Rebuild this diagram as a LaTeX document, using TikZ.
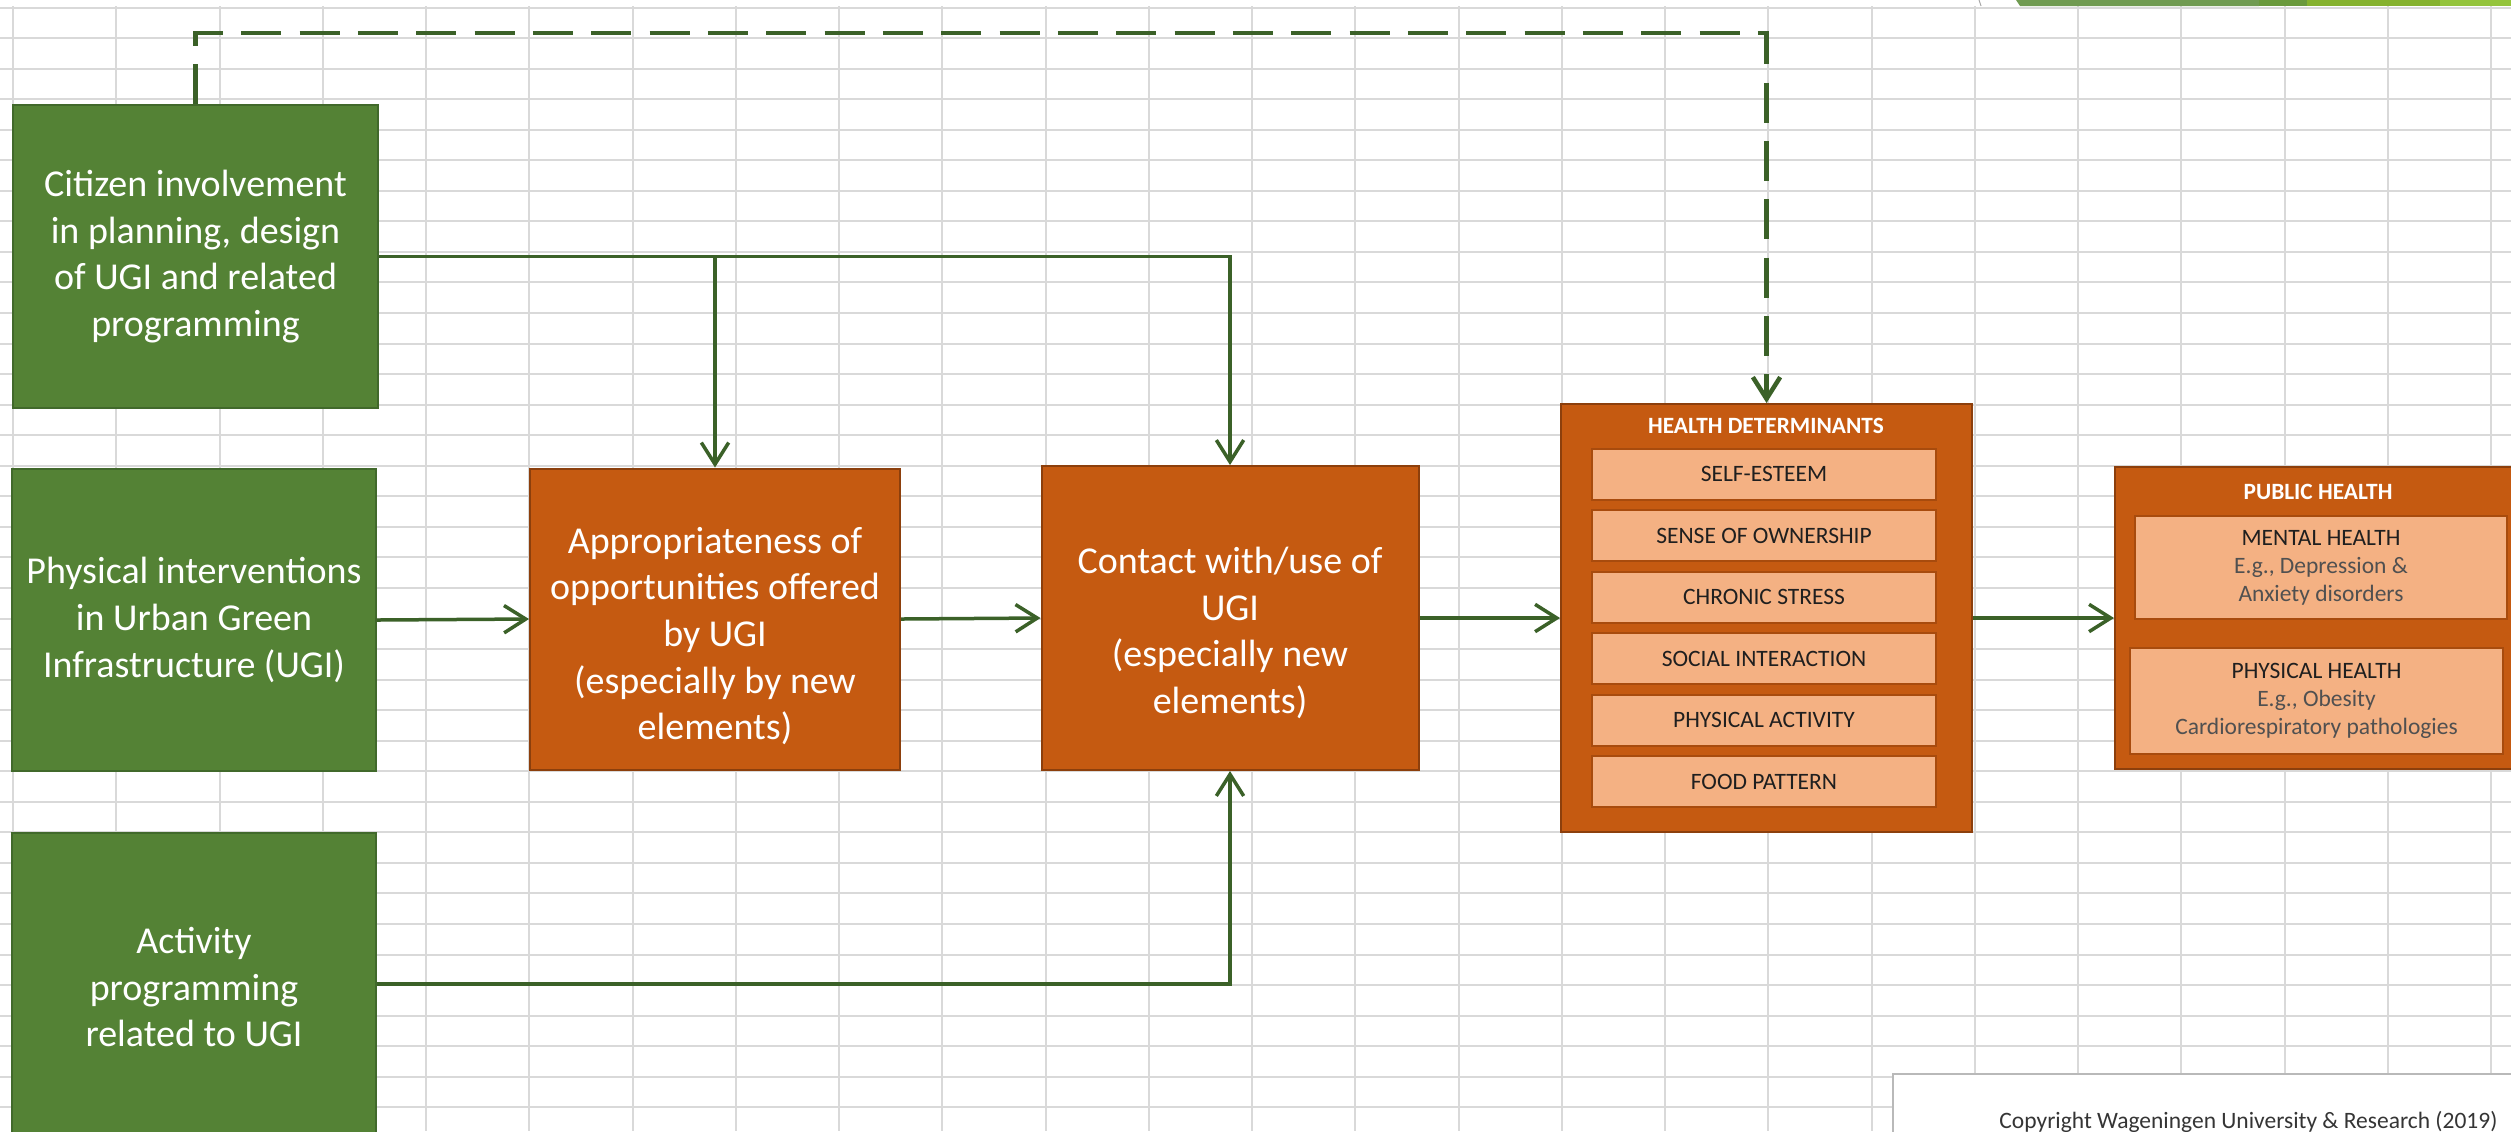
\documentclass[tikz,border=0pt]{standalone}
\usepackage{fontspec}
\setmainfont{Carlito}
\usetikzlibrary{arrows.meta}
\definecolor{gfill}{HTML}{548235}
\definecolor{gline}{HTML}{41692B}
\definecolor{ofill}{HTML}{C55A11}
\definecolor{oline}{HTML}{8C3F0C}
\definecolor{lfill}{HTML}{F4B183}
\definecolor{lline}{HTML}{A84B0D}
\definecolor{arr}{HTML}{3B6128}
\definecolor{gridc}{HTML}{D9D9D9}
\definecolor{dk}{HTML}{1F1F1F}
\definecolor{gy}{HTML}{505050}
\definecolor{ribA}{HTML}{709B51}
\definecolor{ribB}{HTML}{6A9A3C}
\definecolor{ribC}{HTML}{85B22E}
\definecolor{ribD}{HTML}{94C43C}
\begin{document}
\begin{tikzpicture}[x=0.3pt,y=-0.3pt,
  gridline/.style={draw=gridc,line width=0.6pt},
  gbox/.style={draw=gline,fill=gfill,line width=0.6pt,inner sep=0pt,rectangle},
  obox/.style={draw=oline,fill=ofill,line width=0.6pt,inner sep=0pt,rectangle},
  lbox/.style={draw=lline,fill=lfill,line width=0.6pt,inner sep=0pt,rectangle,text=dk,
    font=\fontsize{7.05}{8.4}\selectfont,align=center},
  bigtext/.style={text=white,align=center,font=\fontsize{11.4}{14}\selectfont,inner sep=0pt},
  title/.style={text=white,font=\fontsize{7}{8.4}\selectfont\bfseries,inner sep=0pt},
  conn/.style={draw=arr,line width=1.05pt,-{Straight Barb[length=6.5pt,width=8.2pt]}},
  dconn/.style={draw=arr,line width=1.35pt,dash pattern=on 12pt off 5.5pt,-{Straight Barb[length=6.5pt,width=8.2pt]}}
]
\clip (0,0) rectangle (2511,1131);
\fill[white] (0,0) rectangle (2511,1131);
% spreadsheet grid
\foreach \k in {0,...,24} \draw[gridline] (13+103.25*\k,6) -- (13+103.25*\k,1131);
\foreach \k in {0,...,36} \draw[gridline] (0,7.5+30.55*\k) -- (2511,7.5+30.55*\k);
% cut-off ribbon at the top right
\fill[ribA] (2016,0) -- (2020,6) -- (2259,6) -- (2259,0) -- cycle;
\fill[ribB] (2259,0) rectangle (2307,6);
\fill[ribC] (2307,0) rectangle (2440,6);
\fill[ribD] (2440,0) rectangle (2511,6);
\draw[gray!70,line width=0.3pt] (1979,0) -- (1981,6);

% green boxes
\node[gbox,minimum width=109.5pt,minimum height=90.9pt] (cit) at (195.5,256.5) {};
\node[bigtext] (citt) at (cit.center) {Citizen involvement\\in planning, design\\of UGI and related\\programming};
\node[gbox,minimum width=109.2pt,minimum height=90.6pt] (phy) at (194,620) {};
\node[bigtext] (phyt) at (phy.center) {Physical interventions\\in Urban Green\\Infrastructure (UGI)};
\node[gbox,minimum width=109.2pt,minimum height=90.6pt] (act) at (194,984) {};
\node[bigtext] (actt) at (194,987) {Activity\\programming\\related to UGI};

% orange boxes
\node[obox,minimum width=111pt,minimum height=90.3pt] (app) at (715,619) {};
\node[bigtext] (appt) at (715,636) {Appropriateness of\\opportunities offered\\by UGI\\(especially by new\\elements)};
\node[obox,minimum width=113.1pt,minimum height=91.2pt] (con) at (1230,618) {};
\node[bigtext] (cont) at (1230,633) {Contact with/use of\\UGI\\(especially new\\elements)};

% health determinants
\node[obox,minimum width=123.3pt,minimum height=128.4pt] (hd) at (1766.5,618) {};
\node[title] (hdt) at (1766,426) {HEALTH DETERMINANTS};
\node[lbox,minimum width=103.2pt,minimum height=15.3pt] (d1) at (1764,474) {SELF-ESTEEM};
\node[lbox,minimum width=103.2pt,minimum height=15.3pt] (d2) at (1764,535.5) {SENSE OF OWNERSHIP};
\node[lbox,minimum width=103.2pt,minimum height=15.3pt] (d3) at (1764,597) {CHRONIC STRESS};
\node[lbox,minimum width=103.2pt,minimum height=15.3pt] (d4) at (1764,658.5) {SOCIAL INTERACTION};
\node[lbox,minimum width=103.2pt,minimum height=15.3pt] (d5) at (1764,720) {PHYSICAL ACTIVITY};
\node[lbox,minimum width=103.2pt,minimum height=15.3pt] (d6) at (1764,781.5) {FOOD PATTERN};

% public health
\node[obox,minimum width=127.5pt,minimum height=90.6pt] (ph) at (2327.5,618) {};
\node[title] (pht) at (2318,492) {PUBLIC HEALTH};
\node[lbox,text=gy,minimum width=111.6pt,minimum height=30.9pt] (mh) at (2321,567.5)
  {{\color{dk}MENTAL HEALTH}\\E.g., Depression \&\\Anxiety disorders};
\node[lbox,text=gy,minimum width=111.9pt,minimum height=31.8pt] (pyh) at (2316.5,701)
  {{\color{dk}PHYSICAL HEALTH}\\E.g., Obesity\\Cardiorespiratory pathologies};

% copyright box
\node[draw=gray!55,fill=white,line width=0.6pt,minimum width=194.1pt,minimum height=22.8pt,inner sep=0pt] (cpy) at (2216.5,1112) {};
\node[anchor=base east,inner sep=0pt,text=dk!90,font=\fontsize{7.05}{8.4}\selectfont] (cpyt) at (2498,1128)
  {Copyright Wageningen University \& Research (2019)};

% connectors
\draw[conn] (cit.east) -| (con.north);
\draw[conn] (app.north |- cit.east) -- (app.north);
\draw[conn] (phy.east) -- (app.west);
\draw[conn] (app.east) -- (con.west);
\draw[conn] (con.east) -- (hd.west);
\draw[conn] (hd.east) -- (ph.west);
\draw[conn] (act.east) -| (con.south);
\draw[dconn] (cit.north) -- ++(0,-71) -| (hd.north);
\end{tikzpicture}
\end{document}
